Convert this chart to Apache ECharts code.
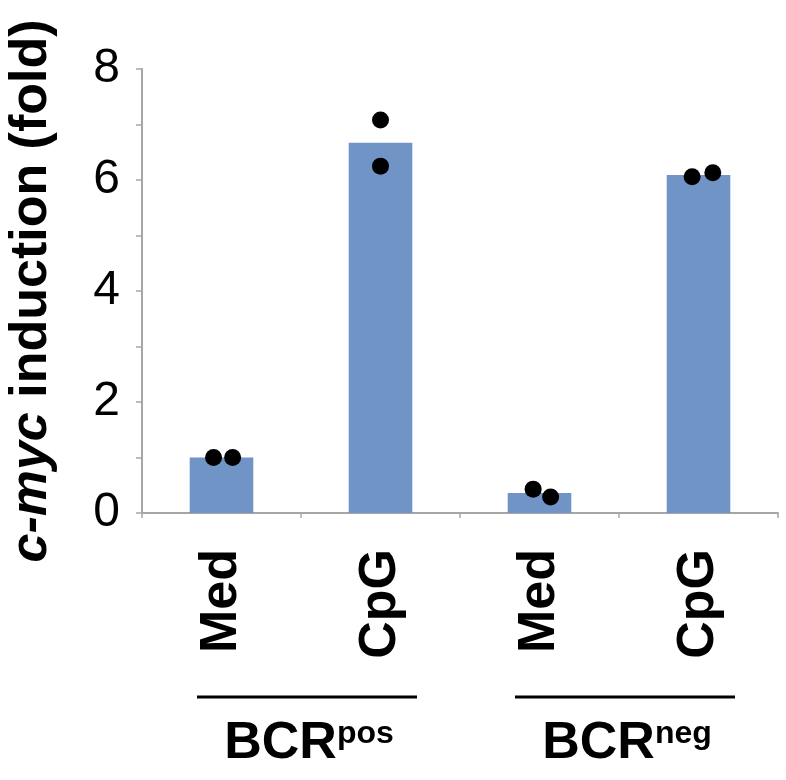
<!DOCTYPE html>
<html><head><meta charset="utf-8">
<script src="https://cdn.jsdelivr.net/npm/echarts@6/dist/echarts.min.js"></script>
<style>html,body{margin:0;padding:0;background:#fff}#c{width:786px;height:780px}</style>
</head><body><div id="c"></div>
<script>
const categories = ['Med', 'CpG', 'Med', 'CpG'];
const barValues = [1.0, 6.67, 0.36, 6.09];
const dotValues = [[1.0, 1.0], [7.08, 6.25], [0.43, 0.29], [6.06, 6.13]];
const dotJitter = [[-0.05, 0.07], [0, 0], [-0.04, 0.07], [-0.04, 0.09]];
const yTickLabels = ['0', '2', '4', '6', '8'];
const groups = [
  { name: 'BCR', sup: 'pos', from: 0, to: 1 },
  { name: 'BCR', sup: 'neg', from: 2, to: 3 }
];

const FONT = "'Liberation Sans', Arial, Helvetica, sans-serif";
const dots = [];
dotValues.forEach((vals, i) => vals.forEach((v, j) => dots.push([i + 0.5 + dotJitter[i][j], v])));

const chart = echarts.init(document.getElementById('c'), null, { renderer: 'canvas' });
chart.setOption({
  animation: false,
  backgroundColor: '#ffffff',
  grid: { left: 142, right: 8, top: 69, bottom: 267, containLabel: false, outerBoundsMode: 'none' },
  xAxis: [{
    type: 'category', data: categories, boundaryGap: true,
    axisLine: { lineStyle: { color: '#a6a6a6', width: 2 } },
    axisTick: { show: true, length: 5, inside: false, lineStyle: { color: '#a6a6a6', width: 1.5 } },
    axisLabel: { rotate: 90, margin: 36, fontFamily: FONT, fontWeight: 'bold', fontSize: 52, color: '#000' }
  }, {
    type: 'value', min: 0, max: 4, show: false
  }],
  yAxis: {
    type: 'value', min: 0, max: 8, interval: 1,
    name: '{i|c-myc} induction (fold)',
    nameLocation: 'middle', nameRotate: 90, nameGap: 84,
    nameTextStyle: { fontFamily: FONT, fontWeight: 'bold', fontSize: 52, color: '#000',
      rich: { i: { fontFamily: FONT, fontWeight: 'bold', fontStyle: 'italic', fontSize: 52, color: '#000' } } },
    axisLine: { show: true, lineStyle: { color: '#a6a6a6', width: 2 } },
    axisTick: { show: true, length: 6, lineStyle: { color: '#a6a6a6', width: 1.5 } },
    splitLine: { show: false },
    axisLabel: {
      margin: 22, fontFamily: FONT, fontSize: 48, color: '#000',
      formatter: v => (yTickLabels.indexOf(String(v)) >= 0 ? String(v) : '')
    }
  },
  series: [{
    type: 'bar', data: barValues, barWidth: '40%',
    itemStyle: { color: '#7194c6' }
  }, {
    type: 'scatter', xAxisIndex: 1, data: dots, symbolSize: 17,
    itemStyle: { color: '#000', opacity: 1 }, z: 5
  }]
});

const gfx = [];
groups.forEach(g => {
  const x0 = chart.convertToPixel({ xAxisIndex: 0 }, g.from);
  const x1 = chart.convertToPixel({ xAxisIndex: 0 }, g.to);
  const cx = (x0 + x1) / 2 + 6;
  gfx.push({ type: 'line', shape: { x1: cx - 110, y1: 697, x2: cx + 110, y2: 697 },
    style: { stroke: '#000', lineWidth: 3 } });
  gfx.push({ type: 'text', x: cx + 2, y: 744,
    style: { text: '{b|' + g.name + '}{s|' + g.sup + '}', align: 'center', verticalAlign: 'middle',
      rich: {
        b: { fontFamily: FONT, fontWeight: 'bold', fontSize: 52, fill: '#000', color: '#000' },
        s: { fontFamily: FONT, fontWeight: 'bold', fontSize: 32, fill: '#000', color: '#000', verticalAlign: 'top', padding: [0, 0, 18, 0] }
      } } });
});
chart.setOption({ graphic: gfx });
</script></body></html>
